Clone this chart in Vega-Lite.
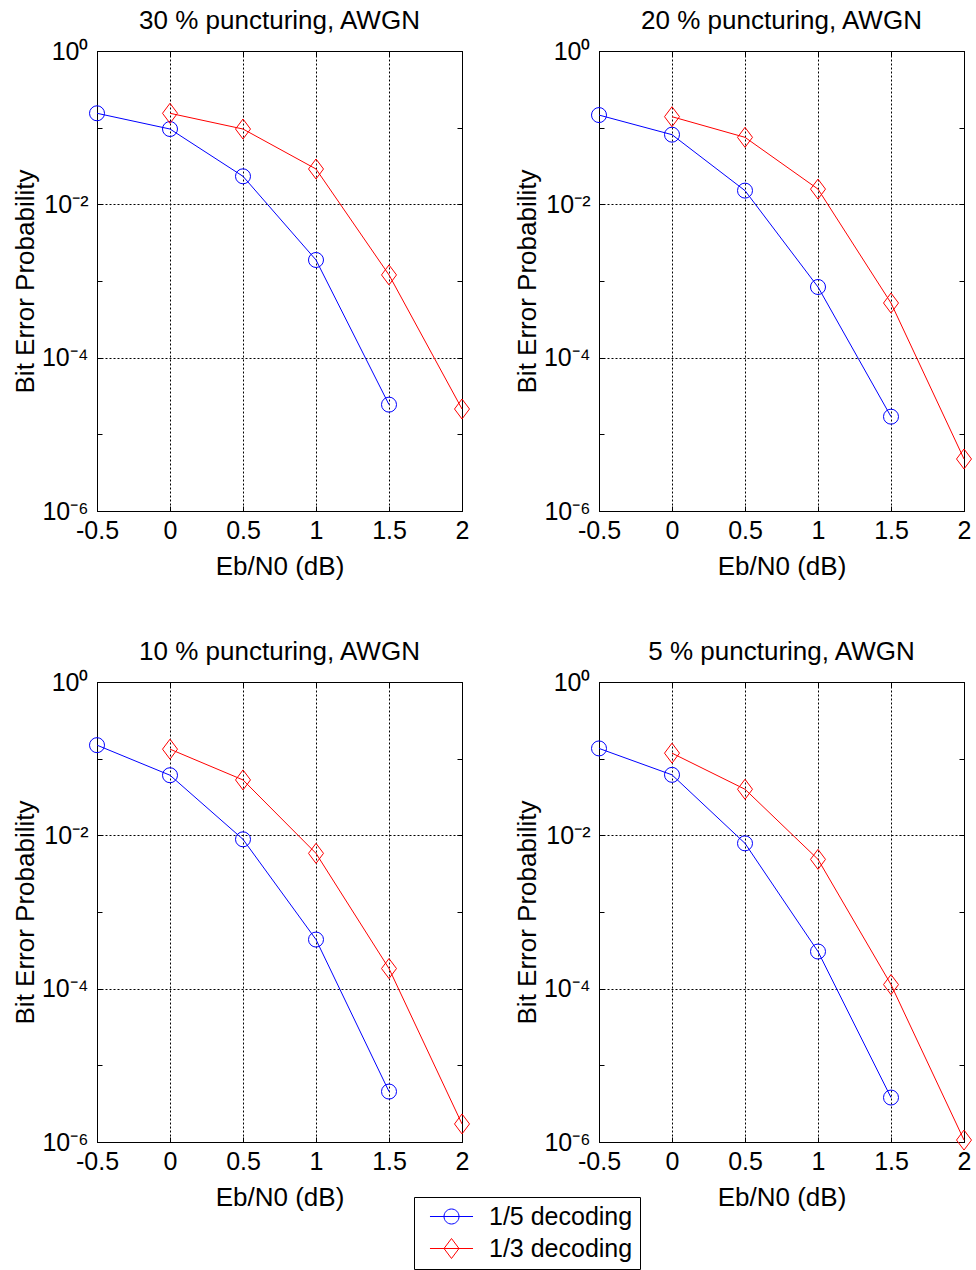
{
  "$schema": "https://vega.github.io/schema/vega-lite/v6.json",
  "background": "white",
  "padding": {"left": 11, "top": 7, "right": 5, "bottom": 2},
  "config": {
    "font": "Liberation Sans",
    "view": {"stroke": "black", "strokeWidth": 1},
    "axis": {
      "labelFont": "Liberation Sans", "labelFontSize": 25, "labelColor": "black",
      "titleFont": "Liberation Sans", "titleFontSize": 26, "titleFontWeight": "normal", "titleColor": "black",
      "domainColor": "black", "tickColor": "black", "gridColor": "black", "gridDash": [2, 2], "gridOpacity": 1, "gridWidth": 1
    },
    "title": {"font": "Liberation Sans", "fontSize": 26, "fontWeight": "normal", "color": "black", "frame": "group", "anchor": "middle", "baseline": "alphabetic", "offset": 5}
  },
  "data": {"values": [
    {"panel": "30", "x": -0.5, "ber": 0.154, "series": "1/5 decoding"},
    {"panel": "30", "x": 0, "ber": 0.096, "series": "1/5 decoding"},
    {"panel": "30", "x": 0.5, "ber": 0.0232, "series": "1/5 decoding"},
    {"panel": "30", "x": 1, "ber": 0.00188, "series": "1/5 decoding"},
    {"panel": "30", "x": 1.5, "ber": 0.0000244, "series": "1/5 decoding"},
    {"panel": "30", "x": 0, "ber": 0.154, "series": "1/3 decoding"},
    {"panel": "30", "x": 0.5, "ber": 0.096, "series": "1/3 decoding"},
    {"panel": "30", "x": 1, "ber": 0.0289, "series": "1/3 decoding"},
    {"panel": "30", "x": 1.5, "ber": 0.0012, "series": "1/3 decoding"},
    {"panel": "30", "x": 2, "ber": 0.0000214, "series": "1/3 decoding"},
    {"panel": "20", "x": -0.5, "ber": 0.146, "series": "1/5 decoding"},
    {"panel": "20", "x": 0, "ber": 0.081, "series": "1/5 decoding"},
    {"panel": "20", "x": 0.5, "ber": 0.0151, "series": "1/5 decoding"},
    {"panel": "20", "x": 1, "ber": 0.000835, "series": "1/5 decoding"},
    {"panel": "20", "x": 1.5, "ber": 0.000017, "series": "1/5 decoding"},
    {"panel": "20", "x": 0, "ber": 0.139, "series": "1/3 decoding"},
    {"panel": "20", "x": 0.5, "ber": 0.0748, "series": "1/3 decoding"},
    {"panel": "20", "x": 1, "ber": 0.0158, "series": "1/3 decoding"},
    {"panel": "20", "x": 1.5, "ber": 0.000516, "series": "1/3 decoding"},
    {"panel": "20", "x": 2, "ber": 0.00000477, "series": "1/3 decoding"},
    {"panel": "10", "x": -0.5, "ber": 0.150, "series": "1/5 decoding"},
    {"panel": "10", "x": 0, "ber": 0.0608, "series": "1/5 decoding"},
    {"panel": "10", "x": 0.5, "ber": 0.00887, "series": "1/5 decoding"},
    {"panel": "10", "x": 1, "ber": 0.000437, "series": "1/5 decoding"},
    {"panel": "10", "x": 1.5, "ber": 0.00000455, "series": "1/5 decoding"},
    {"panel": "10", "x": 0, "ber": 0.133, "series": "1/3 decoding"},
    {"panel": "10", "x": 0.5, "ber": 0.0528, "series": "1/3 decoding"},
    {"panel": "10", "x": 1, "ber": 0.00582, "series": "1/3 decoding"},
    {"panel": "10", "x": 1.5, "ber": 0.000183, "series": "1/3 decoding"},
    {"panel": "10", "x": 2, "ber": 0.00000172, "series": "1/3 decoding"},
    {"panel": "5", "x": -0.5, "ber": 0.136, "series": "1/5 decoding"},
    {"panel": "5", "x": 0, "ber": 0.0615, "series": "1/5 decoding"},
    {"panel": "5", "x": 0.5, "ber": 0.00786, "series": "1/5 decoding"},
    {"panel": "5", "x": 1, "ber": 0.000305, "series": "1/5 decoding"},
    {"panel": "5", "x": 1.5, "ber": 0.0000038, "series": "1/5 decoding"},
    {"panel": "5", "x": 0, "ber": 0.118, "series": "1/3 decoding"},
    {"panel": "5", "x": 0.5, "ber": 0.0399, "series": "1/3 decoding"},
    {"panel": "5", "x": 1, "ber": 0.00486, "series": "1/3 decoding"},
    {"panel": "5", "x": 1.5, "ber": 0.000113, "series": "1/3 decoding"},
    {"panel": "5", "x": 2, "ber": 0.00000106, "series": "1/3 decoding"}
  ]},
  "columns": 2,
  "spacing": {"row": 171, "column": 137},
  "bounds": "flush",
  "concat": [
    {
      "title": {"text": "30 % puncturing, AWGN"},
      "width": 365, "height": 460,
      "transform": [{"filter": "datum.panel === '30'"}],
      "resolve": {"axis": {"x": "independent", "y": "independent"}},
      "layer": [
        {
          "mark": {"type": "line", "strokeWidth": 1},
          "encoding": {
            "x": {"field": "x", "type": "quantitative", "scale": {"domain": [-0.5, 2], "nice": false, "zero": false}, "axis": {"values": [-0.5, 0, 0.5, 1, 1.5, 2], "labelExpr": "'' + datum.value", "title": "Eb/N0 (dB)", "tickSize": -5, "labelPadding": 12, "titlePadding": 10, "labelFlush": false, "labelOverlap": false, "labelBound": false}},
            "y": {"field": "ber", "type": "quantitative", "scale": {"type": "log", "domain": [0.000001, 1], "nice": false}, "axis": {"values": [1, 0.1, 0.01, 0.001, 0.0001, 0.00001, 0.000001], "labelExpr": "['10⁰','','10⁻²','','10⁻⁴','','10⁻⁶'][abs(round(log(datum.value)/LN10))]", "title": "Bit Error Probability", "tickSize": -5, "labelPadding": 14, "titlePadding": 3, "labelFlush": false, "labelOverlap": false, "labelBound": false, "gridOpacity": {"condition": {"test": "abs(round(log(datum.value)/LN10)) % 2 === 1", "value": 0}, "value": 1}}},
            "color": {"field": "series", "type": "nominal", "scale": {"domain": ["1/5 decoding", "1/3 decoding"], "range": ["#0000ff", "#ff0000"]}, "legend": {"title": null, "orient": "none", "legendX": 317, "legendY": 1146, "fillColor": "white", "strokeColor": "black", "padding": 7, "labelFont": "Liberation Sans", "labelFontSize": 25, "labelColor": "black", "symbolSize": 225, "symbolStrokeWidth": 1, "symbolFillColor": "transparent", "symbolOffset": 18, "labelOffset": 25, "rowPadding": 6, "encode": {"symbols": {"update": {"shape": {"signal": "datum.value === '1/5 decoding' ? 'M-2.87,0L2.87,0M1,0A1,1,0,1,1,-1,0A1,1,0,1,1,1,0' : 'M-2.87,0L2.87,0M0,-1.333L1,0L0,1.333L-1,0Z'"}, "fill": {"value": "transparent"}, "strokeWidth": {"value": 1}}}}}}
          }
        },
        {
          "mark": {"type": "point", "filled": false, "size": 225, "strokeWidth": 1, "opacity": 1},
          "encoding": {
            "x": {"field": "x", "type": "quantitative", "axis": {"orient": "top", "values": [-0.5, 0, 0.5, 1, 1.5, 2], "labels": false, "title": null, "grid": false, "domain": false, "tickSize": -5}},
            "y": {"field": "ber", "type": "quantitative", "axis": {"orient": "right", "values": [1, 0.1, 0.01, 0.001, 0.0001, 0.00001, 0.000001], "labels": false, "title": null, "grid": false, "domain": false, "tickSize": -5}},
            "color": {"field": "series", "type": "nominal"},
            "shape": {"field": "series", "type": "nominal", "scale": {"domain": ["1/3 decoding", "1/5 decoding"], "range": ["M0,-1.333L1,0L0,1.333L-1,0Z", "circle"]}, "legend": null}
          }
        }
      ]
    },
    {
      "title": {"text": "20 % puncturing, AWGN"},
      "width": 365, "height": 460,
      "transform": [{"filter": "datum.panel === '20'"}],
      "resolve": {"axis": {"x": "independent", "y": "independent"}},
      "layer": [
        {
          "mark": {"type": "line", "strokeWidth": 1},
          "encoding": {
            "x": {"field": "x", "type": "quantitative", "scale": {"domain": [-0.5, 2], "nice": false, "zero": false}, "axis": {"values": [-0.5, 0, 0.5, 1, 1.5, 2], "labelExpr": "'' + datum.value", "title": "Eb/N0 (dB)", "tickSize": -5, "labelPadding": 12, "titlePadding": 10, "labelFlush": false, "labelOverlap": false, "labelBound": false}},
            "y": {"field": "ber", "type": "quantitative", "scale": {"type": "log", "domain": [0.000001, 1], "nice": false}, "axis": {"values": [1, 0.1, 0.01, 0.001, 0.0001, 0.00001, 0.000001], "labelExpr": "['10⁰','','10⁻²','','10⁻⁴','','10⁻⁶'][abs(round(log(datum.value)/LN10))]", "title": "Bit Error Probability", "tickSize": -5, "labelPadding": 14, "titlePadding": 3, "labelFlush": false, "labelOverlap": false, "labelBound": false, "gridOpacity": {"condition": {"test": "abs(round(log(datum.value)/LN10)) % 2 === 1", "value": 0}, "value": 1}}},
            "color": {"field": "series", "type": "nominal"}
          }
        },
        {
          "mark": {"type": "point", "filled": false, "size": 225, "strokeWidth": 1, "opacity": 1},
          "encoding": {
            "x": {"field": "x", "type": "quantitative", "axis": {"orient": "top", "values": [-0.5, 0, 0.5, 1, 1.5, 2], "labels": false, "title": null, "grid": false, "domain": false, "tickSize": -5}},
            "y": {"field": "ber", "type": "quantitative", "axis": {"orient": "right", "values": [1, 0.1, 0.01, 0.001, 0.0001, 0.00001, 0.000001], "labels": false, "title": null, "grid": false, "domain": false, "tickSize": -5}},
            "color": {"field": "series", "type": "nominal"},
            "shape": {"field": "series", "type": "nominal", "legend": null}
          }
        }
      ]
    },
    {
      "title": {"text": "10 % puncturing, AWGN"},
      "width": 365, "height": 460,
      "transform": [{"filter": "datum.panel === '10'"}],
      "resolve": {"axis": {"x": "independent", "y": "independent"}},
      "layer": [
        {
          "mark": {"type": "line", "strokeWidth": 1},
          "encoding": {
            "x": {"field": "x", "type": "quantitative", "scale": {"domain": [-0.5, 2], "nice": false, "zero": false}, "axis": {"values": [-0.5, 0, 0.5, 1, 1.5, 2], "labelExpr": "'' + datum.value", "title": "Eb/N0 (dB)", "tickSize": -5, "labelPadding": 12, "titlePadding": 10, "labelFlush": false, "labelOverlap": false, "labelBound": false}},
            "y": {"field": "ber", "type": "quantitative", "scale": {"type": "log", "domain": [0.000001, 1], "nice": false}, "axis": {"values": [1, 0.1, 0.01, 0.001, 0.0001, 0.00001, 0.000001], "labelExpr": "['10⁰','','10⁻²','','10⁻⁴','','10⁻⁶'][abs(round(log(datum.value)/LN10))]", "title": "Bit Error Probability", "tickSize": -5, "labelPadding": 14, "titlePadding": 3, "labelFlush": false, "labelOverlap": false, "labelBound": false, "gridOpacity": {"condition": {"test": "abs(round(log(datum.value)/LN10)) % 2 === 1", "value": 0}, "value": 1}}},
            "color": {"field": "series", "type": "nominal"}
          }
        },
        {
          "mark": {"type": "point", "filled": false, "size": 225, "strokeWidth": 1, "opacity": 1},
          "encoding": {
            "x": {"field": "x", "type": "quantitative", "axis": {"orient": "top", "values": [-0.5, 0, 0.5, 1, 1.5, 2], "labels": false, "title": null, "grid": false, "domain": false, "tickSize": -5}},
            "y": {"field": "ber", "type": "quantitative", "axis": {"orient": "right", "values": [1, 0.1, 0.01, 0.001, 0.0001, 0.00001, 0.000001], "labels": false, "title": null, "grid": false, "domain": false, "tickSize": -5}},
            "color": {"field": "series", "type": "nominal"},
            "shape": {"field": "series", "type": "nominal", "legend": null}
          }
        }
      ]
    },
    {
      "title": {"text": "5 % puncturing, AWGN"},
      "width": 365, "height": 460,
      "transform": [{"filter": "datum.panel === '5'"}],
      "resolve": {"axis": {"x": "independent", "y": "independent"}},
      "layer": [
        {
          "mark": {"type": "line", "strokeWidth": 1},
          "encoding": {
            "x": {"field": "x", "type": "quantitative", "scale": {"domain": [-0.5, 2], "nice": false, "zero": false}, "axis": {"values": [-0.5, 0, 0.5, 1, 1.5, 2], "labelExpr": "'' + datum.value", "title": "Eb/N0 (dB)", "tickSize": -5, "labelPadding": 12, "titlePadding": 10, "labelFlush": false, "labelOverlap": false, "labelBound": false}},
            "y": {"field": "ber", "type": "quantitative", "scale": {"type": "log", "domain": [0.000001, 1], "nice": false}, "axis": {"values": [1, 0.1, 0.01, 0.001, 0.0001, 0.00001, 0.000001], "labelExpr": "['10⁰','','10⁻²','','10⁻⁴','','10⁻⁶'][abs(round(log(datum.value)/LN10))]", "title": "Bit Error Probability", "tickSize": -5, "labelPadding": 14, "titlePadding": 3, "labelFlush": false, "labelOverlap": false, "labelBound": false, "gridOpacity": {"condition": {"test": "abs(round(log(datum.value)/LN10)) % 2 === 1", "value": 0}, "value": 1}}},
            "color": {"field": "series", "type": "nominal"}
          }
        },
        {
          "mark": {"type": "point", "filled": false, "size": 225, "strokeWidth": 1, "opacity": 1},
          "encoding": {
            "x": {"field": "x", "type": "quantitative", "axis": {"orient": "top", "values": [-0.5, 0, 0.5, 1, 1.5, 2], "labels": false, "title": null, "grid": false, "domain": false, "tickSize": -5}},
            "y": {"field": "ber", "type": "quantitative", "axis": {"orient": "right", "values": [1, 0.1, 0.01, 0.001, 0.0001, 0.00001, 0.000001], "labels": false, "title": null, "grid": false, "domain": false, "tickSize": -5}},
            "color": {"field": "series", "type": "nominal"},
            "shape": {"field": "series", "type": "nominal", "legend": null}
          }
        }
      ]
    }
  ]
}
